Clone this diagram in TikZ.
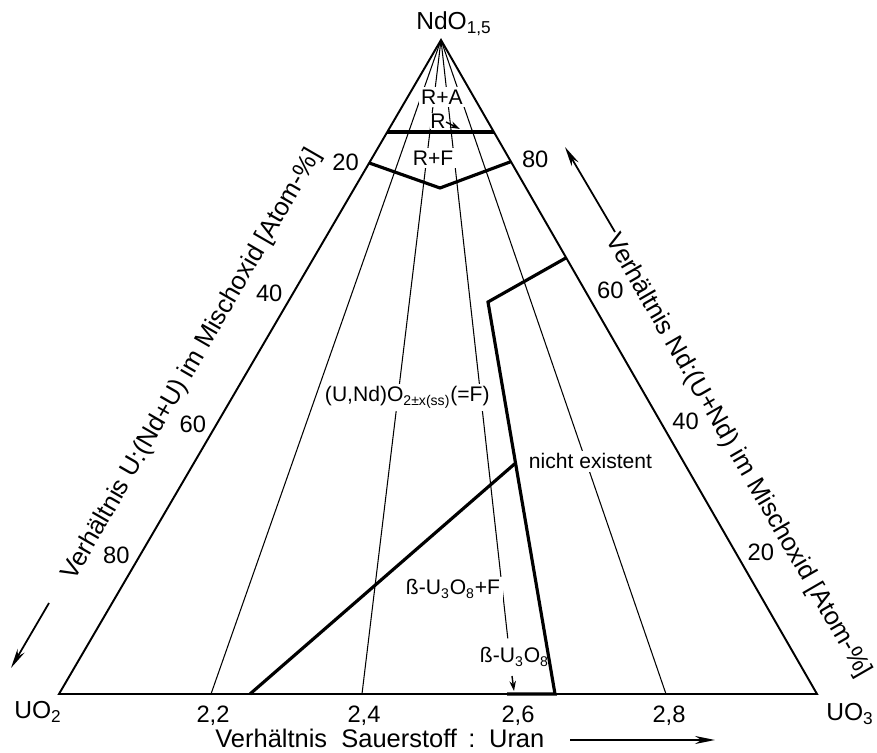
\documentclass[tikz,border=0pt]{standalone}
\usepackage{fontspec}
\setmainfont{Liberation Sans}
\usetikzlibrary{positioning,calc,arrows.meta}

\begin{document}
\begin{tikzpicture}[x=0.02cm, y=-0.02cm,
    edge/.style={line width=1.1pt},
    phase/.style={line width=1.8pt},
    iso/.style={line width=0.6pt},
    lbl/.style={fill=white, inner sep=1.5pt, font=\fontsize{12}{14}\selectfont},
    num/.style={font=\fontsize{13.5}{15}\selectfont},
    ttl/.style={font=\fontsize{14.5}{16}\selectfont, inner sep=0pt},
    axarrow/.style={line width=1pt, -{Stealth[length=4mm,width=1.6mm]}},
    ptr/.style={line width=0.8pt, -{Stealth[length=2mm,width=1.3mm]}}
]
\useasboundingbox (0,0) rectangle (877,753);

% corners of the triangle
\coordinate (nd) at (441,40);
\coordinate (uo2) at (59,694);
\coordinate (uo3) at (817,694);

% O/U ticks on the base
\foreach \n/\x in {22/211, 24/362, 26/514, 28/666}
    \coordinate (t\n) at (\x,694);

% lines of constant O:U
\draw[iso] (nd) -- (t22);
\draw[iso] (nd) -- (t24);
\draw[iso] (nd) -- ($(nd)!0.915!(t26)$);
\draw[iso] (nd) -- (t28);

% phase fields
\node[lbl] (lra) at (442,97) {R+A};
\node[lbl, inner sep=0.5pt] (lr) at (438,121) {R};
\node[lbl] (lrf) at (433,158) {R+F};
\node[lbl, anchor=base west] (lf) at (322,402) {(U,Nd)O\textsubscript{2±x(ss)}(=F)};
\node[lbl, anchor=base west] (lnx) at (526,469) {nicht existent};
\node[lbl, anchor=base west] (lbf) at (403,595) {ß-U\textsubscript{3}O\textsubscript{8}+F};
\node[lbl, anchor=base west] (lb) at (477,663) {ß-U\textsubscript{3}O\textsubscript{8}};

% triangle
\draw[edge, line join=miter] (uo2) -- (uo3) -- (nd) -- cycle;

% phase boundaries
\coordinate (h1) at ($(nd)!0.1407!(uo2)$);
\coordinate (h2) at ($(nd)!0.1407!(uo3)$);
\draw[phase] (h1) -- (h2);

\coordinate (v1) at ($(nd)!0.188!(uo2)$);
\coordinate (v2) at (440,188);
\coordinate (v3) at ($(nd)!0.186!(uo3)$);
\draw[phase] (v1) -- (v2) -- (v3);

\coordinate (b1) at ($(nd)!0.333!(uo3)$);
\coordinate (b2) at (488,302);
\coordinate (b3) at (555,694);
\coordinate (b4) at (507,694);
\draw[phase] (b1) -- (b2) -- (b3) -- (b4);

\coordinate (c1) at (250,694);
\coordinate (c2) at ($(b2)!0.411!(b3)$);
\draw[phase] (c1) -- (c2);

% pointers
\coordinate (rp1) at (446,122);
\coordinate (rp2) at (460,129);
\draw[ptr] (rp1) -- (rp2);
\coordinate (bp1) at (512,676);
\coordinate (bp2) at (514,691);
\draw[ptr] (bp1) -- (bp2);

% scale numbers
\foreach \p/\q in {20/80, 40/60, 60/40, 80/20} {
    \node[num] (l\p) at ($(nd)!\p/100!(uo2)+(-19,-8)$) {\p};
    \node[num] (r\q) at ($(nd)!\p/100!(uo3)+(19,-11)$) {\q};
}
\foreach \n/\x/\t in {22/213/{2,2}, 24/364/{2,4}, 26/518/{2,6}, 28/669/{2,8}}
    \node[num] (n\n) at (\x,716) {\t};

% corner labels
\node[num, font=\fontsize{14}{16}\selectfont] (nuo2) at (38,712) {UO\textsubscript{2}};
\node[num, font=\fontsize{14}{16}\selectfont] (nuo3) at (850,714) {UO\textsubscript{3}};
\node[num, font=\fontsize{14}{16}\selectfont] (nnd) at (454,24) {NdO\textsubscript{1,5}};

% axis titles
\node[ttl, rotate=60] (tleft) at (192,365) {Verhältnis U:(Nd+U) im Mischoxid [Atom-\%]};
\node[ttl, rotate=-60] (tright) at (738,456) {Verhältnis Nd:(U+Nd) im Mischoxid [Atom-\%]};
\node[ttl, anchor=base west] (tbottom) at (215,747) {Verhältnis \ Sauerstoff \,:\, Uran};

\coordinate (la1) at (49,603);
\coordinate (la2) at (11,668);
\draw[axarrow] (la1) -- (la2);
\coordinate (ra1) at (615,232);
\coordinate (ra2) at (565,147);
\draw[axarrow] (ra1) -- (ra2);
\coordinate (ba1) at (570,740);
\coordinate (ba2) at (715,740);
\draw[axarrow] (ba1) -- (ba2);
\end{tikzpicture}
\end{document}
